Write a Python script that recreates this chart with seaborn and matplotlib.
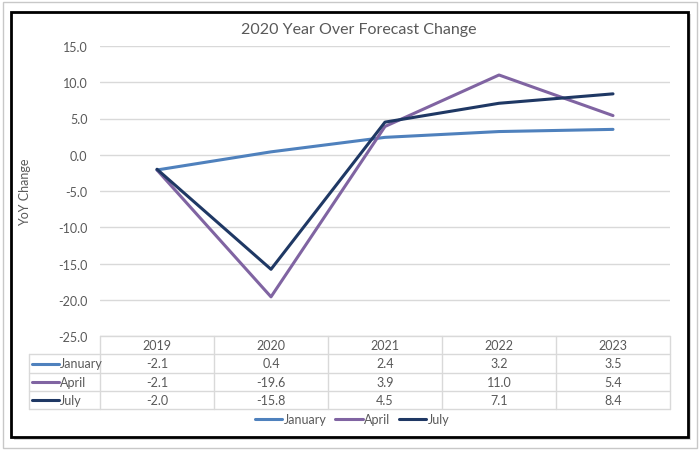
import matplotlib.pyplot as plt
import matplotlib.patches as mpatches
import matplotlib.lines as mlines
import seaborn as sns
import pandas as pd
import numpy as np

years = ["2019", "2020", "2021", "2022", "2023"]
series_names = ["January", "April", "July"]
january = [-2.1, 0.4, 2.4, 3.2, 3.5]
april = [-2.1, -19.6, 3.9, 11.0, 5.4]
july = [-2.0, -15.8, 4.5, 7.1, 8.4]
colors = {"January": "#4F81BD", "April": "#8064A2", "July": "#1F3864"}

values = {"January": january, "April": april, "July": july}
rows = []
for name in series_names:
    for i, y in enumerate(years):
        rows.append({"pos": i, "year": y, "series": name, "value": values[name][i]})
df = pd.DataFrame(rows)

sns.set_style("white")
plt.rcParams["font.family"] = ["Lato", "DejaVu Sans"]
grey = "#595959"

W, H = 700, 452
fig = plt.figure(figsize=(7, 4.52), dpi=100)

def fx(px):
    return px / W

def fy(py):
    return 1 - py / H

# frames
fig.patches.append(mpatches.Rectangle((fx(3), fy(449)), fx(694), 446 / H, transform=fig.transFigure,
                                      fill=False, edgecolor="#C8C8C8", lw=1, zorder=-3))
fig.patches.append(mpatches.Rectangle((fx(14), fy(441)), fx(677), 426 / H, transform=fig.transFigure,
                                      facecolor="#BFBFBF", edgecolor="none", alpha=0.6, zorder=-2))
fig.patches.append(mpatches.Rectangle((fx(11), fy(438)), fx(677), 425 / H, transform=fig.transFigure,
                                      facecolor="white", edgecolor="black", lw=2, zorder=-1))

left, right, top, bottom = 100, 670, 47, 337
ax = fig.add_axes([fx(left), fy(bottom), fx(right - left), (bottom - top) / H])
sns.lineplot(data=df, x="pos", y="value", hue="series", palette=colors, hue_order=series_names,
             lw=2.2, ax=ax, legend=False, zorder=3)
ax.set_xlim(-0.5, len(years) - 0.5)
ax.set_ylim(-25, 15)
ax.set_yticks(np.arange(-25, 16, 5))
ax.set_yticklabels([f"{v:.1f}" for v in np.arange(-25, 16, 5)], color=grey, fontsize=9)
ax.set_xticks([])
ax.set_xlabel("")
ax.set_ylabel("")
ax.grid(axis="y", color="#D9D9D9", lw=1)
ax.tick_params(axis="y", length=0, pad=9)
for s in ax.spines.values():
    s.set_visible(False)
ax.set_facecolor("none")

fig.text(fx(359), fy(30), "2020 Year Over Forecast Change", ha="center", va="center",
         fontsize=11.5, color=grey)
fig.text(fx(25), fy(192), "YoY Change", rotation=90, ha="center", va="center", fontsize=9, color=grey)

# data table
tab_left = 29
col_w = (right - left) / len(years)
row_y = [337, 355, 374, 392, 410]
lc = "#D9D9D9"
line_kw = dict(transform=fig.transFigure, color=lc, lw=1)
fig.add_artist(mlines.Line2D([fx(left), fx(right)], [fy(row_y[0])] * 2, **line_kw))
for yy in row_y[1:]:
    fig.add_artist(mlines.Line2D([fx(tab_left), fx(right)], [fy(yy)] * 2, **line_kw))
fig.add_artist(mlines.Line2D([fx(tab_left)] * 2, [fy(row_y[1]), fy(row_y[-1])], **line_kw))
for j in range(len(years) + 1):
    xx = left + j * col_w
    fig.add_artist(mlines.Line2D([fx(xx)] * 2, [fy(row_y[0]), fy(row_y[-1])], **line_kw))
for j, y in enumerate(years):
    fig.text(fx(left + (j + 0.5) * col_w), fy((row_y[0] + row_y[1]) / 2), y,
             ha="center", va="center", fontsize=9, color=grey)
for r, name in enumerate(series_names):
    yc = (row_y[r + 1] + row_y[r + 2]) / 2
    fig.add_artist(mlines.Line2D([fx(32), fx(59)], [fy(yc)] * 2, transform=fig.transFigure,
                                 color=colors[name], lw=2.2))
    fig.text(fx(60), fy(yc), name, ha="left", va="center", fontsize=9, color=grey)
    for j in range(len(years)):
        fig.text(fx(left + (j + 0.5) * col_w), fy(yc), f"{values[name][j]:.1f}",
                 ha="center", va="center", fontsize=9, color=grey)

# legend
handles = [mlines.Line2D([], [], color=colors[n], lw=2.2) for n in series_names]
leg = fig.legend(handles, series_names, loc="center", bbox_to_anchor=(fx(352), fy(420)), ncol=3,
                 frameon=False, fontsize=9, handlelength=2.2, handletextpad=0.1, columnspacing=0.7)
for t in leg.get_texts():
    t.set_color(grey)

fig.savefig("out.png", dpi=100)
